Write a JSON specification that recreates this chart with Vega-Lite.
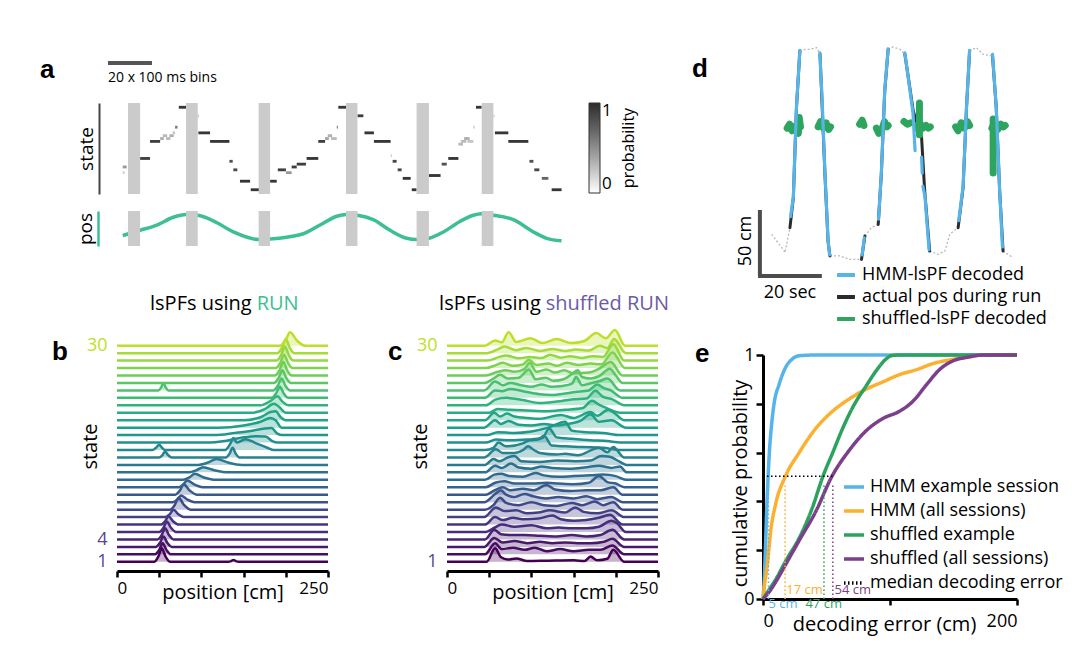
{
"$schema":"https://vega.github.io/schema/vega-lite/v6.json",
"background":"white",
"padding":{"left":40,"top":42,"right":5,"bottom":5},
"config":{"font":"Open Sans","view":{"stroke":null},
"title":{"font":"Liberation Sans","fontSize":26,"fontWeight":"bold","anchor":"start","frame":"group","offset":0,"baseline":"middle","color":"black"},
"axis":{"grid":false,"labelFont":"Open Sans","titleFont":"Open Sans","titleFontWeight":"normal","labelColor":"black","titleColor":"black","domainColor":"black","tickColor":"black"},
"legend":{"labelFont":"Open Sans","titleFont":"Open Sans","titleFontWeight":"normal"}},
"spacing":646,"bounds":"flush",
"resolve":{"scale":{"color":"independent","x":"independent","y":"independent","strokeDash":"independent"},"legend":{"color":"independent","strokeDash":"independent"}},
"hconcat":[
{"vconcat":[
 {"width":445,"height":41,"title":{"text":"a","dx":-77,"dy":42},
  "data":{"values":[{"t0":-6.4,"t1":13.6,"label":"20 x 100 ms bins"}]},
  "layer":[
   {"mark":{"type":"rule","color":"#555555","strokeWidth":4,"yOffset":-2.5},"encoding":{"x":{"field":"t0","type":"quantitative","scale":{"domain":[-2.3,200],"nice":false,"zero":false},"axis":null},"x2":{"field":"t1"}}},
   {"mark":{"type":"text","align":"left","baseline":"middle","dy":12.5,"fontSize":14},"encoding":{"x":{"field":"t0","type":"quantitative"},"text":{"field":"label"}}}
  ]},
 {"width":445,"height":91,
  "layer":[
   {"data":{"values":[
{"t0":0.3,"t1":2.1,"s":9,"p":0.45},{"t0":0.3,"t1":1.2,"s":7,"p":0.2},{"t0":8.2,"t1":12.7,"s":12,"p":0.9},{"t0":12.7,"t1":17.3,"s":18,"p":0.9},
{"t0":17.3,"t1":19,"s":19,"p":0.35},{"t0":18.5,"t1":20.5,"s":20,"p":0.3},{"t0":20,"t1":22,"s":19,"p":0.3},{"t0":21.5,"t1":23.5,"s":20,"p":0.35},{"t0":23,"t1":24.1,"s":21,"p":0.25},
{"t0":24.1,"t1":25.2,"s":23,"p":0.6},{"t0":25.8,"t1":29.1,"s":30,"p":0.95},{"t0":34.4,"t1":34.9,"s":27,"p":0.3},{"t0":34.7,"t1":40,"s":21,"p":0.95},{"t0":40,"t1":48.8,"s":18,"p":0.95},
{"t0":48.8,"t1":50.3,"s":11,"p":0.8},{"t0":50.6,"t1":52.4,"s":8,"p":0.85},{"t0":53.6,"t1":58.2,"s":4,"p":0.95},{"t0":58.5,"t1":62.4,"s":1,"p":0.95},
{"t0":67.3,"t1":70.3,"s":4,"p":0.95},{"t0":70.8,"t1":74.5,"s":8,"p":0.9},{"t0":74.5,"t1":77.1,"s":7,"p":0.45},{"t0":77.1,"t1":79.4,"s":9,"p":0.9},{"t0":79.4,"t1":83.6,"s":10,"p":0.9},
{"t0":83.9,"t1":89.2,"s":12,"p":0.95},{"t0":89.2,"t1":92.3,"s":18,"p":0.9},{"t0":92.3,"t1":94,"s":19,"p":0.4},{"t0":93.5,"t1":95.5,"s":20,"p":0.35},{"t0":95,"t1":97.6,"s":19,"p":0.3},
{"t0":97.6,"t1":98.2,"s":23,"p":0.5},{"t0":98.3,"t1":101.8,"s":30,"p":0.95},{"t0":107,"t1":109.7,"s":27,"p":0.9},{"t0":110.2,"t1":114.5,"s":21,"p":0.95},{"t0":114.5,"t1":122.1,"s":18,"p":0.95},
{"t0":122.1,"t1":122.7,"s":13,"p":0.2},{"t0":123,"t1":124.8,"s":11,"p":0.85},{"t0":125.3,"t1":127.1,"s":8,"p":0.85},{"t0":127.6,"t1":131.2,"s":5,"p":0.95},{"t0":131.7,"t1":133.9,"s":1,"p":0.95},
{"t0":139.5,"t1":144.8,"s":6,"p":0.95},{"t0":145.3,"t1":147.6,"s":10,"p":0.8},{"t0":148.3,"t1":152.9,"s":12,"p":0.95},{"t0":152.9,"t1":155,"s":17,"p":0.3},{"t0":154,"t1":156.5,"s":18,"p":0.3},
{"t0":155.5,"t1":158,"s":19,"p":0.35},{"t0":157,"t1":159.7,"s":18,"p":0.25},{"t0":159.7,"t1":160.3,"s":23,"p":0.25},{"t0":160.9,"t1":163.5,"s":30,"p":0.95},{"t0":168.8,"t1":169.4,"s":27,"p":0.2},
{"t0":169.5,"t1":175.6,"s":21,"p":0.95},{"t0":175.6,"t1":184.7,"s":18,"p":0.95},{"t0":185.2,"t1":187,"s":11,"p":0.8},{"t0":187.4,"t1":189.7,"s":8,"p":0.85},{"t0":190.8,"t1":193.8,"s":5,"p":0.7},{"t0":195.3,"t1":199.8,"s":1,"p":0.95}
   ]},
   "mark":"rect",
   "encoding":{
    "x":{"field":"t0","type":"quantitative","scale":{"domain":[-2.3,200],"nice":false,"zero":false},"axis":null},
    "x2":{"field":"t1"},
    "y":{"field":"s","type":"ordinal","scale":{"domain":[30,29,28,27,26,25,24,23,22,21,20,19,18,17,16,15,14,13,12,11,10,9,8,7,6,5,4,3,2,1],"paddingInner":0,"paddingOuter":1},
         "axis":{"title":"state","labels":false,"ticks":false,"domainColor":"#444444","domainWidth":2,"offset":18,"titleFontSize":19,"titlePadding":3}},
    "color":{"field":"p","type":"quantitative","scale":{"domain":[0,1],"range":["#ffffff","#2d2d2d"]},
      "legend":{"title":"probability","orient":"right","offset":27,"direction":"vertical","gradientLength":90,"gradientThickness":11,"values":[0,1],"format":"d","labelFontSize":17,"titleFontSize":16,"titleOrient":"right","gradientStrokeColor":"#333333","gradientStrokeWidth":1,"encode":{"title":{"update":{"angle":{"value":270},"dy":{"value":20}}}}}}
   }},
   {"data":{"values":[{"b0":2.7,"b1":8.2},{"b0":29.1,"b1":34.4},{"b0":62.1,"b1":67.3},{"b0":101.8,"b1":107},{"b0":133.9,"b1":139.5},{"b0":163.5,"b1":168.8}]},
    "mark":{"type":"rect","color":"#cbcbcb"},
    "encoding":{"x":{"field":"b0","type":"quantitative"},"x2":{"field":"b1"}}}
  ]},
 {"width":445,"height":35,
  "layer":[
   {"data":{"values":[{"t":0.3,"pos":82},{"t":8.2,"pos":114},{"t":15.8,"pos":146},{"t":23.3,"pos":194},{"t":29.1,"pos":211},{"t":34.4,"pos":206},{"t":41.5,"pos":172},{"t":50.6,"pos":104},{"t":62.1,"pos":57},{"t":67.3,"pos":61},{"t":74.8,"pos":72},{"t":82.4,"pos":93},{"t":90,"pos":146},{"t":97.6,"pos":200},{"t":101.8,"pos":211},{"t":107,"pos":206},{"t":114.2,"pos":179},{"t":121.8,"pos":114},{"t":129.4,"pos":65},{"t":133.9,"pos":57},{"t":139.5,"pos":65},{"t":146.1,"pos":104},{"t":153.6,"pos":168},{"t":159.7,"pos":206},{"t":163.5,"pos":215},{"t":168.8,"pos":206},{"t":177.9,"pos":179},{"t":187,"pos":104},{"t":193,"pos":65},{"t":199.8,"pos":50}]},
    "mark":{"type":"line","color":"#3dbf91","strokeWidth":3.5,"interpolate":"monotone"},
    "encoding":{"x":{"field":"t","type":"quantitative","scale":{"domain":[-2.3,200],"nice":false,"zero":false},"axis":null},
     "y":{"field":"pos","type":"quantitative","scale":{"domain":[18,232],"nice":false,"zero":false},"axis":{"title":"pos","labels":false,"ticks":false,"domainColor":"#3dbf91","domainWidth":2.5,"offset":19,"titleFontSize":19,"titlePadding":3}}}},
   {"data":{"values":[{"b0":2.7,"b1":8.2},{"b0":29.1,"b1":34.4},{"b0":62.1,"b1":67.3},{"b0":101.8,"b1":107},{"b0":133.9,"b1":139.5},{"b0":163.5,"b1":168.8}]},
    "mark":{"type":"rect","color":"#cbcbcb"},
    "encoding":{"x":{"field":"b0","type":"quantitative"},"x2":{"field":"b1"}}}
  ]},
 {"hconcat":[
  {"width":211,"height":304,"title":{"text":"b","dx":-65,"dy":106},
   "data":{"values":[
{"s":1,"x":0,"y":1},{"s":1,"x":44,"y":1},{"s":1,"x":49,"y":1.72},{"s":1,"x":53,"y":2.8},{"s":1,"x":57.5,"y":1.72},{"s":1,"x":63,"y":1},{"s":1,"x":132,"y":1},{"s":1,"x":135.3,"y":1.1},{"s":1,"x":138,"y":1.25},{"s":1,"x":140.7,"y":1.1},{"s":1,"x":144,"y":1},{"s":1,"x":250,"y":1},
{"s":2,"x":0,"y":2},{"s":2,"x":45,"y":2},{"s":2,"x":50,"y":2.6},{"s":2,"x":54,"y":3.5},{"s":2,"x":58.5,"y":2.6},{"s":2,"x":64,"y":2},{"s":2,"x":250,"y":2},
{"s":3,"x":0,"y":3},{"s":3,"x":46,"y":3},{"s":3,"x":51,"y":3.56},{"s":3,"x":55,"y":4.4},{"s":3,"x":59.5,"y":3.56},{"s":3,"x":65,"y":3},{"s":3,"x":250,"y":3},
{"s":4,"x":0,"y":4},{"s":4,"x":48,"y":4},{"s":4,"x":53,"y":4.6},{"s":4,"x":57,"y":5.5},{"s":4,"x":61.5,"y":4.6},{"s":4,"x":67,"y":4},{"s":4,"x":250,"y":4},
{"s":5,"x":0,"y":5},{"s":5,"x":50,"y":5},{"s":5,"x":55,"y":5.56},{"s":5,"x":59,"y":6.4},{"s":5,"x":64,"y":5.56},{"s":5,"x":70,"y":5},{"s":5,"x":250,"y":5},
{"s":6,"x":0,"y":6},{"s":6,"x":52,"y":6},{"s":6,"x":57,"y":6.44},{"s":6,"x":61,"y":7.1},{"s":6,"x":66.4,"y":6.44},{"s":6,"x":73,"y":6},{"s":6,"x":250,"y":6},
{"s":7,"x":0,"y":7},{"s":7,"x":57,"y":7},{"s":7,"x":62.5,"y":7.4},{"s":7,"x":67,"y":8},{"s":7,"x":72.4,"y":7.4},{"s":7,"x":79,"y":7},{"s":7,"x":250,"y":7},
{"s":8,"x":0,"y":8},{"s":8,"x":63,"y":8},{"s":8,"x":68.5,"y":8.64},{"s":8,"x":73,"y":9.6},{"s":8,"x":79.3,"y":8.64},{"s":8,"x":87,"y":8},{"s":8,"x":250,"y":8},
{"s":9,"x":0,"y":9},{"s":9,"x":66,"y":9},{"s":9,"x":71.5,"y":9.36},{"s":9,"x":76,"y":9.9},{"s":9,"x":83.2,"y":9.36},{"s":9,"x":92,"y":9},{"s":9,"x":250,"y":9},
{"s":10,"x":0,"y":10},{"s":10,"x":69,"y":10},{"s":10,"x":74.5,"y":10.56},{"s":10,"x":79,"y":11.4},{"s":10,"x":86.2,"y":10.56},{"s":10,"x":95,"y":10},{"s":10,"x":250,"y":10},
{"s":11,"x":0,"y":11},{"s":11,"x":73,"y":11},{"s":11,"x":78.5,"y":11.36},{"s":11,"x":83,"y":11.9},{"s":11,"x":92,"y":11.36},{"s":11,"x":103,"y":11},{"s":11,"x":250,"y":11},
{"s":12,"x":0,"y":12},{"s":12,"x":78,"y":12},{"s":12,"x":85.7,"y":12.32},{"s":12,"x":92,"y":12.8},{"s":12,"x":103,"y":12.32},{"s":12,"x":117,"y":12},{"s":12,"x":250,"y":12},
{"s":13,"x":0,"y":13},{"s":13,"x":84,"y":13},{"s":13,"x":94,"y":13.28},{"s":13,"x":102,"y":13.7},{"s":13,"x":115.5,"y":13.28},{"s":13,"x":132,"y":13},{"s":13,"x":250,"y":13},
{"s":14,"x":0,"y":14},{"s":14,"x":96,"y":14},{"s":14,"x":108,"y":14.32},{"s":14,"x":118,"y":14.8},{"s":14,"x":131.5,"y":14.32},{"s":14,"x":148,"y":14},{"s":14,"x":250,"y":14},
{"s":15,"x":0,"y":15},{"s":15,"x":50,"y":15},{"s":15,"x":53.9,"y":15.32},{"s":15,"x":57,"y":15.8},{"s":15,"x":60.6,"y":15.32},{"s":15,"x":65,"y":15},{"s":15,"x":129,"y":15},{"s":15,"x":133.4,"y":15.52},{"s":15,"x":137,"y":16.3},{"s":15,"x":140.6,"y":15.52},{"s":15,"x":145,"y":15},{"s":15,"x":250,"y":15},
{"s":16,"x":0,"y":16},{"s":16,"x":42,"y":16},{"s":16,"x":46,"y":16.28},{"s":16,"x":50,"y":16.7},{"s":16,"x":53.5,"y":16.28},{"s":16,"x":57,"y":16},{"s":16,"x":128,"y":16},{"s":16,"x":134,"y":16.8},{"s":16,"x":138,"y":17.6},{"s":16,"x":142,"y":17},{"s":16,"x":152,"y":17.45},{"s":16,"x":165,"y":16.9},{"s":16,"x":178,"y":16.3},{"s":16,"x":186,"y":16},{"s":16,"x":250,"y":16},
{"s":17,"x":0,"y":17},{"s":17,"x":105,"y":17},{"s":17,"x":130,"y":17.25},{"s":17,"x":150,"y":17.7},{"s":17,"x":165,"y":17.85},{"s":17,"x":176,"y":17.8},{"s":17,"x":184,"y":17.2},{"s":17,"x":190,"y":17},{"s":17,"x":250,"y":17},
{"s":18,"x":0,"y":18},{"s":18,"x":115,"y":18},{"s":18,"x":140,"y":18.3},{"s":18,"x":160,"y":18.6},{"s":18,"x":175,"y":18.9},{"s":18,"x":183,"y":18.95},{"s":18,"x":190,"y":18.2},{"s":18,"x":196,"y":18},{"s":18,"x":250,"y":18},
{"s":19,"x":0,"y":19},{"s":19,"x":120,"y":19},{"s":19,"x":150,"y":19.3},{"s":19,"x":170,"y":19.8},{"s":19,"x":182,"y":20.3},{"s":19,"x":188,"y":20},{"s":19,"x":195,"y":19},{"s":19,"x":250,"y":19},
{"s":20,"x":0,"y":20},{"s":20,"x":150,"y":20},{"s":20,"x":170,"y":20.4},{"s":20,"x":182,"y":21.1},{"s":20,"x":188,"y":21.2},{"s":20,"x":194,"y":20.4},{"s":20,"x":200,"y":20},{"s":20,"x":250,"y":20},
{"s":21,"x":0,"y":21},{"s":21,"x":160,"y":21},{"s":21,"x":175,"y":21.5},{"s":21,"x":186,"y":22.2},{"s":21,"x":192,"y":21.8},{"s":21,"x":200,"y":21},{"s":21,"x":250,"y":21},
{"s":22,"x":0,"y":22},{"s":22,"x":170,"y":22},{"s":22,"x":182,"y":22.6},{"s":22,"x":190,"y":23.2},{"s":22,"x":196,"y":22.5},{"s":22,"x":203,"y":22},{"s":22,"x":250,"y":22},
{"s":23,"x":0,"y":23},{"s":23,"x":183,"y":23},{"s":23,"x":188.5,"y":23.6},{"s":23,"x":193,"y":24.5},{"s":23,"x":197.5,"y":23.6},{"s":23,"x":203,"y":23},{"s":23,"x":250,"y":23},
{"s":24,"x":0,"y":24},{"s":24,"x":49,"y":24},{"s":24,"x":52.3,"y":24.4},{"s":24,"x":55,"y":25},{"s":24,"x":57.7,"y":24.4},{"s":24,"x":61,"y":24},{"s":24,"x":185,"y":24},{"s":24,"x":190.5,"y":24.64},{"s":24,"x":195,"y":25.6},{"s":24,"x":199.5,"y":24.64},{"s":24,"x":205,"y":24},{"s":24,"x":250,"y":24},
{"s":25,"x":0,"y":25},{"s":25,"x":186,"y":25},{"s":25,"x":191.5,"y":25.68},{"s":25,"x":196,"y":26.7},{"s":25,"x":200.5,"y":25.68},{"s":25,"x":206,"y":25},{"s":25,"x":250,"y":25},
{"s":26,"x":0,"y":26},{"s":26,"x":187,"y":26},{"s":26,"x":192.5,"y":26.72},{"s":26,"x":197,"y":27.8},{"s":26,"x":201.5,"y":26.72},{"s":26,"x":207,"y":26},{"s":26,"x":250,"y":26},
{"s":27,"x":0,"y":27},{"s":27,"x":188,"y":27},{"s":27,"x":193.5,"y":27.72},{"s":27,"x":198,"y":28.8},{"s":27,"x":202.5,"y":27.72},{"s":27,"x":208,"y":27},{"s":27,"x":250,"y":27},
{"s":28,"x":0,"y":28},{"s":28,"x":189,"y":28},{"s":28,"x":194.5,"y":28.76},{"s":28,"x":199,"y":29.9},{"s":28,"x":203.5,"y":28.76},{"s":28,"x":209,"y":28},{"s":28,"x":250,"y":28},
{"s":29,"x":0,"y":29},{"s":29,"x":190,"y":29},{"s":29,"x":195.5,"y":29.76},{"s":29,"x":200,"y":30.9},{"s":29,"x":204.5,"y":29.76},{"s":29,"x":210,"y":29},{"s":29,"x":250,"y":29},
{"s":30,"x":0,"y":30},{"s":30,"x":193,"y":30},{"s":30,"x":199.6,"y":30.72},{"s":30,"x":205,"y":31.8},{"s":30,"x":213,"y":30.72},{"s":30,"x":223,"y":30},{"s":30,"x":250,"y":30}
   ]},
   "layer":[
    {"mark":{"type":"area","opacity":0.3,"interpolate":"monotone"},
     "encoding":{"x":{"field":"x","type":"quantitative","scale":{"domain":[0,250],"nice":false},
        "axis":{"values":[0,50,100,150,200,250],"labelExpr":"datum.value==0||datum.value==250?datum.label:''","labelFlush":true,"domainWidth":3,"tickWidth":2.5,"tickSize":6,"offset":4,"labelFontSize":17,"labelPadding":3,"title":"position [cm]","titleFontSize":20,"titleY":21,"titleBaseline":"middle"}},
      "y":{"field":"y","type":"quantitative","stack":null,"scale":{"domain":[0.3,41.1],"nice":false,"zero":false},
        "axis":{"values":[1,4,30],"labelColor":{"condition":{"test":"datum.value==30","value":"#bddf26"},"value":"#574596"},"labelFontSize":18,"ticks":false,"domain":false,"labelPadding":10,"title":"state","titleFontSize":20,"titleX":-27,"titleY":183,"titleBaseline":"middle"}},
      "y2":{"field":"s"},
      "color":{"field":"s","type":"quantitative","scale":{"scheme":{"name":"viridis","extent":[0,0.9]},"domain":[1,30]},"legend":null},
      "detail":{"field":"s","type":"nominal"}}},
    {"mark":{"type":"line","strokeWidth":2.5,"interpolate":"monotone"},
     "encoding":{"x":{"field":"x","type":"quantitative"},"y":{"field":"y","type":"quantitative"},
      "color":{"field":"s","type":"quantitative","legend":null},"detail":{"field":"s","type":"nominal"}}},
    {"data":{"values":[{}]},"mark":{"type":"text","text":"lsPFs using","align":"right","baseline":"middle","fontSize":20,"dx":-5},"encoding":{"x":{"datum":165.5},"y":{"datum":35.6}}},
    {"data":{"values":[{}]},"mark":{"type":"text","text":"RUN","align":"left","baseline":"middle","fontSize":20,"color":"#3dbf91"},"encoding":{"x":{"datum":165.5},"y":{"datum":35.6}}}
   ]},
  {"width":211,"height":304,"title":{"text":"c","dx":-59,"dy":106},
   "data":{"values":[
{"s":30,"x":0,"y":30},{"s":30,"x":45,"y":30},{"s":30,"x":57,"y":30.7},{"s":30,"x":65,"y":30.45},{"s":30,"x":73,"y":31.8},{"s":30,"x":82,"y":30.5},{"s":30,"x":99,"y":31},{"s":30,"x":113,"y":30.35},{"s":30,"x":130,"y":30.9},{"s":30,"x":147,"y":30.35},{"s":30,"x":162,"y":30.6},{"s":30,"x":177,"y":31.7},{"s":30,"x":188,"y":31},{"s":30,"x":199,"y":32.1},{"s":30,"x":211,"y":30},{"s":30,"x":250,"y":30},
{"s":29,"x":0,"y":29},{"s":29,"x":47,"y":29},{"s":29,"x":60,"y":29.5},{"s":29,"x":68,"y":29.9},{"s":29,"x":82,"y":29.4},{"s":29,"x":94,"y":29.7},{"s":29,"x":110,"y":29.3},{"s":29,"x":125,"y":29.55},{"s":29,"x":140,"y":29.3},{"s":29,"x":153,"y":29.5},{"s":29,"x":168,"y":29.35},{"s":29,"x":181,"y":30},{"s":29,"x":190,"y":29.7},{"s":29,"x":198,"y":30.9},{"s":29,"x":212,"y":29},{"s":29,"x":250,"y":29},
{"s":28,"x":0,"y":28},{"s":28,"x":48,"y":28},{"s":28,"x":62,"y":28.5},{"s":28,"x":70,"y":28.7},{"s":28,"x":85,"y":28.3},{"s":28,"x":98,"y":28.5},{"s":28,"x":112,"y":28.35},{"s":28,"x":122,"y":28.8},{"s":28,"x":135,"y":28.4},{"s":28,"x":146,"y":28.6},{"s":28,"x":160,"y":28.35},{"s":28,"x":172,"y":28.6},{"s":28,"x":185,"y":28.5},{"s":28,"x":197,"y":30.2},{"s":28,"x":210,"y":28},{"s":28,"x":250,"y":28},
{"s":27,"x":0,"y":27},{"s":27,"x":46,"y":27},{"s":27,"x":58,"y":27.4},{"s":27,"x":66,"y":27.7},{"s":27,"x":78,"y":27.3},{"s":27,"x":90,"y":27.5},{"s":27,"x":97,"y":28.1},{"s":27,"x":106,"y":27.4},{"s":27,"x":120,"y":27.6},{"s":27,"x":130,"y":27.3},{"s":27,"x":142,"y":27.7},{"s":27,"x":156,"y":27.4},{"s":27,"x":170,"y":27.6},{"s":27,"x":183,"y":27.5},{"s":27,"x":196,"y":29.1},{"s":27,"x":211,"y":27},{"s":27,"x":250,"y":27},
{"s":26,"x":0,"y":26},{"s":26,"x":46,"y":26},{"s":26,"x":60,"y":26.5},{"s":26,"x":70,"y":26.7},{"s":26,"x":80,"y":26.5},{"s":26,"x":92,"y":26.9},{"s":26,"x":98,"y":27.7},{"s":26,"x":106,"y":26.5},{"s":26,"x":118,"y":26.8},{"s":26,"x":128,"y":26.4},{"s":26,"x":139,"y":26.7},{"s":26,"x":150,"y":26.3},{"s":26,"x":168,"y":26.4},{"s":26,"x":180,"y":26.9},{"s":26,"x":194,"y":27.8},{"s":26,"x":208,"y":26},{"s":26,"x":250,"y":26},
{"s":25,"x":0,"y":25},{"s":25,"x":45,"y":25},{"s":25,"x":55,"y":25.6},{"s":25,"x":63,"y":26.1},{"s":25,"x":72,"y":25.6},{"s":25,"x":85,"y":25.7},{"s":25,"x":97,"y":26.8},{"s":25,"x":105,"y":25.5},{"s":25,"x":117,"y":25.7},{"s":25,"x":126,"y":25.3},{"s":25,"x":138,"y":25.5},{"s":25,"x":148,"y":26.2},{"s":25,"x":155,"y":26.7},{"s":25,"x":160,"y":25.8},{"s":25,"x":170,"y":25.6},{"s":25,"x":180,"y":25.9},{"s":25,"x":193,"y":26.9},{"s":25,"x":200,"y":26},{"s":25,"x":208,"y":25},{"s":25,"x":250,"y":25},
{"s":24,"x":0,"y":24},{"s":24,"x":44,"y":24},{"s":24,"x":57,"y":25.2},{"s":24,"x":66,"y":24.7},{"s":24,"x":75,"y":25},{"s":24,"x":88,"y":24.7},{"s":24,"x":100,"y":24.5},{"s":24,"x":112,"y":24.8},{"s":24,"x":124,"y":24.5},{"s":24,"x":137,"y":24.6},{"s":24,"x":148,"y":24.9},{"s":24,"x":153,"y":25.8},{"s":24,"x":160,"y":24.7},{"s":24,"x":172,"y":25},{"s":24,"x":182,"y":25.3},{"s":24,"x":190,"y":25.6},{"s":24,"x":205,"y":24},{"s":24,"x":250,"y":24},
{"s":23,"x":0,"y":23},{"s":23,"x":45,"y":23},{"s":23,"x":57,"y":24},{"s":23,"x":65,"y":23.9},{"s":23,"x":75,"y":24.2},{"s":23,"x":90,"y":23.9},{"s":23,"x":110,"y":23.5},{"s":23,"x":125,"y":23.4},{"s":23,"x":140,"y":23.6},{"s":23,"x":152,"y":23.8},{"s":23,"x":168,"y":24},{"s":23,"x":178,"y":24.8},{"s":23,"x":186,"y":24.3},{"s":23,"x":194,"y":24},{"s":23,"x":208,"y":23},{"s":23,"x":250,"y":23},
{"s":22,"x":0,"y":22},{"s":22,"x":46,"y":22},{"s":22,"x":58,"y":22.8},{"s":22,"x":70,"y":23},{"s":22,"x":90,"y":22.7},{"s":22,"x":110,"y":22.3},{"s":22,"x":130,"y":22.5},{"s":22,"x":150,"y":22.8},{"s":22,"x":165,"y":22.9},{"s":22,"x":176,"y":23.95},{"s":22,"x":184,"y":23.2},{"s":22,"x":196,"y":22.8},{"s":22,"x":210,"y":22},{"s":22,"x":250,"y":22},
{"s":21,"x":0,"y":21},{"s":21,"x":50,"y":21},{"s":21,"x":60,"y":21.5},{"s":21,"x":75,"y":21.4},{"s":21,"x":95,"y":21.3},{"s":21,"x":118,"y":21.2},{"s":21,"x":140,"y":21.4},{"s":21,"x":160,"y":21.6},{"s":21,"x":172,"y":22.6},{"s":21,"x":180,"y":22.1},{"s":21,"x":190,"y":21.6},{"s":21,"x":205,"y":21},{"s":21,"x":250,"y":21},
{"s":20,"x":0,"y":20},{"s":20,"x":45,"y":20},{"s":20,"x":56,"y":21},{"s":20,"x":63,"y":20.5},{"s":20,"x":71,"y":20.9},{"s":20,"x":80,"y":20.5},{"s":20,"x":96,"y":20.3},{"s":20,"x":110,"y":20.2},{"s":20,"x":135,"y":20.7},{"s":20,"x":150,"y":20.3},{"s":20,"x":170,"y":21.1},{"s":20,"x":178,"y":20.6},{"s":20,"x":191,"y":21.4},{"s":20,"x":200,"y":20.8},{"s":20,"x":210,"y":20},{"s":20,"x":250,"y":20},
{"s":19,"x":0,"y":19},{"s":19,"x":44,"y":19},{"s":19,"x":57,"y":20},{"s":19,"x":64,"y":19.5},{"s":19,"x":73,"y":19.9},{"s":19,"x":85,"y":19.4},{"s":19,"x":100,"y":19.3},{"s":19,"x":115,"y":19.5},{"s":19,"x":130,"y":19.3},{"s":19,"x":143,"y":19.5},{"s":19,"x":158,"y":19.9},{"s":19,"x":170,"y":20.8},{"s":19,"x":180,"y":19.8},{"s":19,"x":195,"y":20},{"s":19,"x":212,"y":19},{"s":19,"x":250,"y":19},
{"s":18,"x":0,"y":18},{"s":18,"x":48,"y":18},{"s":18,"x":60,"y":18.4},{"s":18,"x":80,"y":18.3},{"s":18,"x":100,"y":18.5},{"s":18,"x":120,"y":19},{"s":18,"x":140,"y":19.8},{"s":18,"x":148,"y":18.6},{"s":18,"x":165,"y":18.4},{"s":18,"x":185,"y":18.3},{"s":18,"x":205,"y":18},{"s":18,"x":250,"y":18},
{"s":17,"x":0,"y":17},{"s":17,"x":46,"y":17},{"s":17,"x":58,"y":17.4},{"s":17,"x":75,"y":17.3},{"s":17,"x":95,"y":17.4},{"s":17,"x":113,"y":17.6},{"s":17,"x":121,"y":18.9},{"s":17,"x":130,"y":17.7},{"s":17,"x":148,"y":17.5},{"s":17,"x":170,"y":17.3},{"s":17,"x":190,"y":17.2},{"s":17,"x":205,"y":17},{"s":17,"x":250,"y":17},
{"s":16,"x":0,"y":16},{"s":16,"x":45,"y":16},{"s":16,"x":55,"y":16.3},{"s":16,"x":61,"y":17},{"s":16,"x":70,"y":16.5},{"s":16,"x":90,"y":16.9},{"s":16,"x":98,"y":17.3},{"s":16,"x":108,"y":17.4},{"s":16,"x":115,"y":17.9},{"s":16,"x":124,"y":16.6},{"s":16,"x":140,"y":16.5},{"s":16,"x":160,"y":16.4},{"s":16,"x":185,"y":16.3},{"s":16,"x":205,"y":16},{"s":16,"x":250,"y":16},
{"s":15,"x":0,"y":15},{"s":15,"x":44,"y":15},{"s":15,"x":58,"y":16.1},{"s":15,"x":66,"y":15.6},{"s":15,"x":80,"y":15.6},{"s":15,"x":90,"y":16},{"s":15,"x":96,"y":16.5},{"s":15,"x":103,"y":16},{"s":15,"x":110,"y":15.6},{"s":15,"x":130,"y":15.4},{"s":15,"x":140,"y":15.5},{"s":15,"x":155,"y":15.3},{"s":15,"x":180,"y":16.3},{"s":15,"x":190,"y":15.7},{"s":15,"x":197,"y":16.4},{"s":15,"x":210,"y":15},{"s":15,"x":250,"y":15},
{"s":14,"x":0,"y":14},{"s":14,"x":45,"y":14},{"s":14,"x":55,"y":14.8},{"s":14,"x":62,"y":14.5},{"s":14,"x":72,"y":15},{"s":14,"x":80,"y":15.2},{"s":14,"x":88,"y":14.5},{"s":14,"x":110,"y":14.4},{"s":14,"x":130,"y":14.6},{"s":14,"x":152,"y":14.5},{"s":14,"x":170,"y":14.6},{"s":14,"x":183,"y":15.2},{"s":14,"x":193,"y":15.1},{"s":14,"x":205,"y":14.4},{"s":14,"x":213,"y":14},{"s":14,"x":250,"y":14},
{"s":13,"x":0,"y":13},{"s":13,"x":45,"y":13},{"s":13,"x":57,"y":13.9},{"s":13,"x":65,"y":13.6},{"s":13,"x":76,"y":14.2},{"s":13,"x":84,"y":13.7},{"s":13,"x":100,"y":13.5},{"s":13,"x":112,"y":13.8},{"s":13,"x":125,"y":13.6},{"s":13,"x":145,"y":13.5},{"s":13,"x":165,"y":13.7},{"s":13,"x":180,"y":13.9},{"s":13,"x":195,"y":13.6},{"s":13,"x":205,"y":13.8},{"s":13,"x":213,"y":13},{"s":13,"x":250,"y":13},
{"s":12,"x":0,"y":12},{"s":12,"x":45,"y":12},{"s":12,"x":56,"y":12.7},{"s":12,"x":64,"y":12.8},{"s":12,"x":74,"y":12.5},{"s":12,"x":90,"y":12.4},{"s":12,"x":105,"y":12.9},{"s":12,"x":115,"y":12.6},{"s":12,"x":133,"y":12.4},{"s":12,"x":150,"y":12.5},{"s":12,"x":170,"y":12.6},{"s":12,"x":185,"y":12.7},{"s":12,"x":200,"y":12.5},{"s":12,"x":212,"y":12},{"s":12,"x":250,"y":12},
{"s":11,"x":0,"y":11},{"s":11,"x":46,"y":11},{"s":11,"x":57,"y":11.6},{"s":11,"x":68,"y":11.8},{"s":11,"x":80,"y":11.5},{"s":11,"x":100,"y":11.5},{"s":11,"x":118,"y":11.6},{"s":11,"x":132,"y":11.5},{"s":11,"x":150,"y":11.4},{"s":11,"x":168,"y":11.6},{"s":11,"x":180,"y":12.5},{"s":11,"x":190,"y":11.7},{"s":11,"x":200,"y":11.5},{"s":11,"x":210,"y":11},{"s":11,"x":250,"y":11},
{"s":10,"x":0,"y":10},{"s":10,"x":46,"y":10},{"s":10,"x":55,"y":10.5},{"s":10,"x":66,"y":11},{"s":10,"x":75,"y":10.6},{"s":10,"x":90,"y":10.8},{"s":10,"x":103,"y":10.6},{"s":10,"x":118,"y":11.3},{"s":10,"x":128,"y":10.7},{"s":10,"x":146,"y":10.5},{"s":10,"x":165,"y":10.6},{"s":10,"x":182,"y":10.6},{"s":10,"x":197,"y":11},{"s":10,"x":208,"y":10},{"s":10,"x":250,"y":10},
{"s":9,"x":0,"y":9},{"s":9,"x":44,"y":9},{"s":9,"x":57,"y":10.1},{"s":9,"x":64,"y":10.6},{"s":9,"x":70,"y":10},{"s":9,"x":80,"y":9.7},{"s":9,"x":92,"y":10.1},{"s":9,"x":102,"y":9.8},{"s":9,"x":117,"y":9.5},{"s":9,"x":132,"y":9.7},{"s":9,"x":150,"y":9.5},{"s":9,"x":165,"y":9.8},{"s":9,"x":178,"y":9.4},{"s":9,"x":195,"y":9.7},{"s":9,"x":208,"y":9},{"s":9,"x":250,"y":9},
{"s":8,"x":0,"y":8},{"s":8,"x":45,"y":8},{"s":8,"x":55,"y":8.6},{"s":8,"x":63,"y":9.6},{"s":8,"x":70,"y":8.9},{"s":8,"x":85,"y":8.6},{"s":8,"x":100,"y":9},{"s":8,"x":115,"y":8.6},{"s":8,"x":130,"y":8.5},{"s":8,"x":148,"y":8.9},{"s":8,"x":160,"y":8.6},{"s":8,"x":175,"y":9.1},{"s":8,"x":185,"y":8.6},{"s":8,"x":197,"y":9},{"s":8,"x":208,"y":8},{"s":8,"x":250,"y":8},
{"s":7,"x":0,"y":7},{"s":7,"x":44,"y":7},{"s":7,"x":58,"y":8.3},{"s":7,"x":68,"y":7.8},{"s":7,"x":82,"y":7.9},{"s":7,"x":95,"y":7.5},{"s":7,"x":108,"y":7.6},{"s":7,"x":122,"y":7.9},{"s":7,"x":140,"y":7.6},{"s":7,"x":152,"y":8.3},{"s":7,"x":162,"y":7.7},{"s":7,"x":178,"y":7.5},{"s":7,"x":195,"y":7.9},{"s":7,"x":210,"y":7},{"s":7,"x":250,"y":7},
{"s":6,"x":0,"y":6},{"s":6,"x":45,"y":6},{"s":6,"x":57,"y":7},{"s":6,"x":66,"y":6.6},{"s":6,"x":78,"y":6.9},{"s":6,"x":90,"y":6.7},{"s":6,"x":108,"y":6.8},{"s":6,"x":125,"y":7.2},{"s":6,"x":135,"y":6.7},{"s":6,"x":150,"y":6.5},{"s":6,"x":165,"y":6.6},{"s":6,"x":180,"y":6.9},{"s":6,"x":193,"y":7.3},{"s":6,"x":208,"y":6},{"s":6,"x":250,"y":6},
{"s":5,"x":0,"y":5},{"s":5,"x":46,"y":5},{"s":5,"x":55,"y":5.5},{"s":5,"x":65,"y":6},{"s":5,"x":80,"y":5.7},{"s":5,"x":100,"y":5.9},{"s":5,"x":118,"y":5.5},{"s":5,"x":132,"y":5.6},{"s":5,"x":148,"y":5.5},{"s":5,"x":165,"y":5.5},{"s":5,"x":180,"y":5.7},{"s":5,"x":195,"y":6.5},{"s":5,"x":201,"y":6.2},{"s":5,"x":212,"y":5},{"s":5,"x":250,"y":5},
{"s":4,"x":0,"y":4},{"s":4,"x":45,"y":4},{"s":4,"x":56,"y":5.3},{"s":4,"x":64,"y":4.7},{"s":4,"x":75,"y":4.6},{"s":4,"x":92,"y":4.6},{"s":4,"x":110,"y":4.5},{"s":4,"x":130,"y":4.4},{"s":4,"x":148,"y":4.6},{"s":4,"x":165,"y":4.4},{"s":4,"x":182,"y":4.6},{"s":4,"x":196,"y":5.3},{"s":4,"x":210,"y":4},{"s":4,"x":250,"y":4},
{"s":3,"x":0,"y":3},{"s":3,"x":44,"y":3},{"s":3,"x":56,"y":4.2},{"s":3,"x":66,"y":3.6},{"s":3,"x":80,"y":3.8},{"s":3,"x":95,"y":3.5},{"s":3,"x":110,"y":3.7},{"s":3,"x":125,"y":3.5},{"s":3,"x":140,"y":3.6},{"s":3,"x":155,"y":3.5},{"s":3,"x":170,"y":3.5},{"s":3,"x":186,"y":3.7},{"s":3,"x":196,"y":4.1},{"s":3,"x":210,"y":3},{"s":3,"x":250,"y":3},
{"s":2,"x":0,"y":2},{"s":2,"x":45,"y":2},{"s":2,"x":57,"y":3.5},{"s":2,"x":65,"y":2.7},{"s":2,"x":78,"y":2.9},{"s":2,"x":92,"y":2.6},{"s":2,"x":104,"y":2.9},{"s":2,"x":118,"y":2.4},{"s":2,"x":134,"y":2.7},{"s":2,"x":150,"y":2.4},{"s":2,"x":168,"y":2.6},{"s":2,"x":182,"y":2.6},{"s":2,"x":196,"y":3.2},{"s":2,"x":210,"y":2},{"s":2,"x":250,"y":2},
{"s":1,"x":0,"y":1},{"s":1,"x":47,"y":1},{"s":1,"x":57,"y":2.8},{"s":1,"x":64,"y":1.6},{"s":1,"x":72,"y":1.3},{"s":1,"x":82,"y":1.45},{"s":1,"x":95,"y":1.1},{"s":1,"x":120,"y":1.15},{"s":1,"x":150,"y":1.2},{"s":1,"x":163,"y":1.1},{"s":1,"x":170,"y":1.7},{"s":1,"x":178,"y":1.2},{"s":1,"x":190,"y":1.4},{"s":1,"x":197,"y":2.6},{"s":1,"x":210,"y":1},{"s":1,"x":250,"y":1}
   ]},
   "layer":[
    {"mark":{"type":"area","opacity":0.3,"interpolate":"monotone"},
     "encoding":{"x":{"field":"x","type":"quantitative","scale":{"domain":[0,250],"nice":false},
        "axis":{"values":[0,50,100,150,200,250],"labelExpr":"datum.value==0||datum.value==250?datum.label:''","labelFlush":true,"domainWidth":3,"tickWidth":2.5,"tickSize":6,"offset":4,"labelFontSize":17,"labelPadding":3,"title":"position [cm]","titleFontSize":20,"titleY":21,"titleBaseline":"middle"}},
      "y":{"field":"y","type":"quantitative","stack":null,"scale":{"domain":[0.3,41.1],"nice":false,"zero":false},
        "axis":{"values":[1,30],"labelColor":{"condition":{"test":"datum.value==30","value":"#bddf26"},"value":"#574596"},"labelFontSize":18,"ticks":false,"domain":false,"labelPadding":10,"title":"state","titleFontSize":20,"titleX":-27,"titleY":183,"titleBaseline":"middle"}},
      "y2":{"field":"s"},
      "color":{"field":"s","type":"quantitative","scale":{"scheme":{"name":"viridis","extent":[0,0.9]},"domain":[1,30]},"legend":null},
      "detail":{"field":"s","type":"nominal"}}},
    {"mark":{"type":"line","strokeWidth":2.5,"interpolate":"monotone"},
     "encoding":{"x":{"field":"x","type":"quantitative"},"y":{"field":"y","type":"quantitative"},
      "color":{"field":"s","type":"quantitative","legend":null},"detail":{"field":"s","type":"nominal"}}},
    {"data":{"values":[{}]},"mark":{"type":"text","text":"lsPFs using","align":"right","baseline":"middle","fontSize":20,"dx":-5},"encoding":{"x":{"datum":117},"y":{"datum":35.6}}},
    {"data":{"values":[{}]},"mark":{"type":"text","text":"shuffled RUN","align":"left","baseline":"middle","fontSize":20,"color":"#6a5aa8"},"encoding":{"x":{"datum":117},"y":{"datum":35.6}}}
   ]}
 ],"spacing":119,"bounds":"flush","resolve":{"scale":{"color":"independent","x":"independent","y":"independent"}}}
],"spacing":17,"bounds":"flush","resolve":{"scale":{"color":"independent","x":"independent","y":"independent"},"legend":{"color":"independent"}}},
{"vconcat":[
 {"width":254,"height":231,"title":{"text":"d","dx":-71,"dy":43},
  "data":{"values":[
{"k":"gap","g":"G1","t":3.8,"p":31.6},{"k":"gap","g":"G1","t":5.4,"p":26.5},{"k":"gap","g":"G1","t":7.5,"p":20.2},{"k":"gap","g":"G1","t":8.1,"p":17.7},{"k":"gap","g":"G1","t":9.7,"p":36.6},
{"k":"gap","g":"G2","t":12.9,"p":170.5},{"k":"gap","g":"G2","t":14.5,"p":171.7},{"k":"gap","g":"G2","t":16.1,"p":171.7},{"k":"gap","g":"G2","t":18.3,"p":173},{"k":"gap","g":"G2","t":19.4,"p":168},
{"k":"gap","g":"G3","t":22.6,"p":15.2},{"k":"gap","g":"G3","t":25.8,"p":15.2},{"k":"gap","g":"G3","t":29,"p":12.6},{"k":"gap","g":"G3","t":32.8,"p":12.6},
{"k":"gap","g":"G4","t":33.9,"p":30.3},{"k":"gap","g":"G4","t":36,"p":36.6},{"k":"gap","g":"G4","t":38.2,"p":39.1},
{"k":"gap","g":"G5","t":41.4,"p":171.7},{"k":"gap","g":"G5","t":43,"p":173.5},{"k":"gap","g":"G5","t":45.2,"p":171.7},{"k":"gap","g":"G5","t":46.8,"p":168},
{"k":"gap","g":"G6","t":54.8,"p":18.9},{"k":"gap","g":"G6","t":57.5,"p":16.4},{"k":"gap","g":"G6","t":59.7,"p":18.9},{"k":"gap","g":"G6","t":61.3,"p":31.6},{"k":"gap","g":"G6","t":64,"p":36.6},
{"k":"gap","g":"G7","t":67.7,"p":170.5},{"k":"gap","g":"G7","t":69.9,"p":173},{"k":"gap","g":"G7","t":72,"p":168},{"k":"gap","g":"G7","t":75.1,"p":166.7},
{"k":"gap","g":"G8","t":78.5,"p":18.9},{"k":"gap","g":"G8","t":81.7,"p":13.9},
{"k":"actual pos during run","g":"R1","t":9.7,"p":36.6},{"k":"actual pos during run","g":"R1","t":10.8,"p":59.3},{"k":"actual pos during run","g":"R1","t":11.8,"p":127.5},{"k":"actual pos during run","g":"R1","t":12.9,"p":170.5},
{"k":"actual pos during run","g":"R2","t":19.4,"p":168},{"k":"actual pos during run","g":"R2","t":19.9,"p":140},{"k":"actual pos during run","g":"R2","t":21,"p":77},{"k":"actual pos during run","g":"R2","t":22,"p":26.5},{"k":"actual pos during run","g":"R2","t":22.6,"p":15.2},
{"k":"actual pos during run","g":"R3","t":32.8,"p":12.6},{"k":"actual pos during run","g":"R3","t":33.9,"p":30.3},
{"k":"actual pos during run","g":"R4","t":38.2,"p":39.1},{"k":"actual pos during run","g":"R4","t":39.2,"p":77},{"k":"actual pos during run","g":"R4","t":40.3,"p":140},{"k":"actual pos during run","g":"R4","t":41.4,"p":171.7},
{"k":"actual pos during run","g":"R5","t":46.8,"p":168},{"k":"actual pos during run","g":"R5","t":48.4,"p":142.7},{"k":"actual pos during run","g":"R5","t":49.5,"p":125},{"k":"actual pos during run","g":"R5","t":52.2,"p":104.8},{"k":"actual pos during run","g":"R5","t":53.2,"p":64.4},{"k":"actual pos during run","g":"R5","t":54.8,"p":18.9},
{"k":"actual pos during run","g":"R6","t":64,"p":36.6},{"k":"actual pos during run","g":"R6","t":65.6,"p":66.9},{"k":"actual pos during run","g":"R6","t":66.7,"p":127.5},{"k":"actual pos during run","g":"R6","t":67.7,"p":170.5},
{"k":"actual pos during run","g":"R7","t":75.1,"p":166.7},{"k":"actual pos during run","g":"R7","t":76.3,"p":127.5},{"k":"actual pos during run","g":"R7","t":77.4,"p":64.4},{"k":"actual pos during run","g":"R7","t":78.5,"p":18.9},
{"k":"HMM-lsPF decoded","g":"B1","t":9.9,"p":45},{"k":"HMM-lsPF decoded","g":"B1","t":10.8,"p":60},{"k":"HMM-lsPF decoded","g":"B1","t":11.8,"p":128},{"k":"HMM-lsPF decoded","g":"B1","t":12.9,"p":171},
{"k":"HMM-lsPF decoded","g":"B2","t":19.4,"p":169},{"k":"HMM-lsPF decoded","g":"B2","t":19.7,"p":150},{"k":"HMM-lsPF decoded","g":"B2","t":20,"p":139},{"k":"HMM-lsPF decoded","g":"B2","t":21,"p":78},{"k":"HMM-lsPF decoded","g":"B2","t":22,"p":27},{"k":"HMM-lsPF decoded","g":"B2","t":22.5,"p":16},
{"k":"HMM-lsPF decoded","g":"B3","t":33,"p":16},{"k":"HMM-lsPF decoded","g":"B3","t":33.7,"p":29},
{"k":"HMM-lsPF decoded","g":"B4","t":38.3,"p":43},{"k":"HMM-lsPF decoded","g":"B4","t":39.2,"p":78},{"k":"HMM-lsPF decoded","g":"B4","t":40.3,"p":141},{"k":"HMM-lsPF decoded","g":"B4","t":41.4,"p":172},
{"k":"HMM-lsPF decoded","g":"B5a","t":46.8,"p":169},{"k":"HMM-lsPF decoded","g":"B5a","t":48.3,"p":143},{"k":"HMM-lsPF decoded","g":"B5a","t":49.4,"p":124},{"k":"HMM-lsPF decoded","g":"B5a","t":50.1,"p":95},
{"k":"HMM-lsPF decoded","g":"B5b","t":52.2,"p":90},{"k":"HMM-lsPF decoded","g":"B5b","t":52.4,"p":78},
{"k":"HMM-lsPF decoded","g":"B5c","t":52.6,"p":68},{"k":"HMM-lsPF decoded","g":"B5c","t":53.3,"p":60},{"k":"HMM-lsPF decoded","g":"B5c","t":54.6,"p":20},
{"k":"HMM-lsPF decoded","g":"B6","t":64.2,"p":42},{"k":"HMM-lsPF decoded","g":"B6","t":65.6,"p":68},{"k":"HMM-lsPF decoded","g":"B6","t":66.7,"p":128},{"k":"HMM-lsPF decoded","g":"B6","t":67.7,"p":171},
{"k":"HMM-lsPF decoded","g":"B7","t":75.1,"p":168},{"k":"HMM-lsPF decoded","g":"B7","t":76.3,"p":128},{"k":"HMM-lsPF decoded","g":"B7","t":77.4,"p":65},{"k":"HMM-lsPF decoded","g":"B7","t":78.3,"p":22},
{"k":"shuffled-lsPF decoded","g":"S1","t":8.8,"p":112},{"k":"shuffled-lsPF decoded","g":"S1","t":9.6,"p":115},{"k":"shuffled-lsPF decoded","g":"S1","t":10.4,"p":110},{"k":"shuffled-lsPF decoded","g":"S1","t":11.6,"p":114},{"k":"shuffled-lsPF decoded","g":"S1","t":12.4,"p":108},{"k":"shuffled-lsPF decoded","g":"S1","t":12.7,"p":120},{"k":"shuffled-lsPF decoded","g":"S1","t":13.1,"p":113},
{"k":"shuffled-lsPF decoded","g":"S2","t":18.8,"p":113},{"k":"shuffled-lsPF decoded","g":"S2","t":19.6,"p":117},{"k":"shuffled-lsPF decoded","g":"S2","t":20.5,"p":112},{"k":"shuffled-lsPF decoded","g":"S2","t":21.4,"p":116},{"k":"shuffled-lsPF decoded","g":"S2","t":22.2,"p":111},{"k":"shuffled-lsPF decoded","g":"S2","t":22.8,"p":113},
{"k":"shuffled-lsPF decoded","g":"S3","t":32.2,"p":115},{"k":"shuffled-lsPF decoded","g":"S3","t":33,"p":118},{"k":"shuffled-lsPF decoded","g":"S3","t":33.6,"p":114},
{"k":"shuffled-lsPF decoded","g":"S4","t":37.6,"p":112},{"k":"shuffled-lsPF decoded","g":"S4","t":38.4,"p":108},{"k":"shuffled-lsPF decoded","g":"S4","t":39.4,"p":111},{"k":"shuffled-lsPF decoded","g":"S4","t":40.2,"p":117},{"k":"shuffled-lsPF decoded","g":"S4","t":41,"p":113},{"k":"shuffled-lsPF decoded","g":"S4","t":41.4,"p":114},
{"k":"shuffled-lsPF decoded","g":"S5","t":46.5,"p":117},{"k":"shuffled-lsPF decoded","g":"S5","t":47.6,"p":115},{"k":"shuffled-lsPF decoded","g":"S5","t":48.6,"p":116},
{"k":"shuffled-lsPF decoded","g":"S6","t":50.6,"p":112},{"k":"shuffled-lsPF decoded","g":"S6","t":51.6,"p":116},{"k":"shuffled-lsPF decoded","g":"S6","t":52.6,"p":112},{"k":"shuffled-lsPF decoded","g":"S6","t":53.6,"p":114},{"k":"shuffled-lsPF decoded","g":"S6","t":54.4,"p":112},{"k":"shuffled-lsPF decoded","g":"S6","t":55,"p":113},
{"k":"shuffled-lsPF decoded","g":"S7","t":51.5,"p":107},{"k":"shuffled-lsPF decoded","g":"S7","t":51.5,"p":131},
{"k":"shuffled-lsPF decoded","g":"S8","t":63.2,"p":113},{"k":"shuffled-lsPF decoded","g":"S8","t":64,"p":110},{"k":"shuffled-lsPF decoded","g":"S8","t":65,"p":116},{"k":"shuffled-lsPF decoded","g":"S8","t":66,"p":112},{"k":"shuffled-lsPF decoded","g":"S8","t":67,"p":117},{"k":"shuffled-lsPF decoded","g":"S8","t":67.7,"p":114},
{"k":"shuffled-lsPF decoded","g":"S9","t":74.9,"p":112},{"k":"shuffled-lsPF decoded","g":"S9","t":75.8,"p":116},{"k":"shuffled-lsPF decoded","g":"S9","t":76.8,"p":111},{"k":"shuffled-lsPF decoded","g":"S9","t":77.8,"p":115},{"k":"shuffled-lsPF decoded","g":"S9","t":78.6,"p":113},{"k":"shuffled-lsPF decoded","g":"S9","t":79.2,"p":114},
{"k":"shuffled-lsPF decoded","g":"S10","t":75.3,"p":78},{"k":"shuffled-lsPF decoded","g":"S10","t":75.3,"p":119}
  ]},
  "layer":[
   {"transform":[{"filter":"datum.k=='gap'"}],"mark":{"type":"line","color":"#b8b8b8","strokeWidth":1.3,"strokeDash":[2,2]},
    "encoding":{"x":{"field":"t","type":"quantitative","scale":{"domain":[1,83],"nice":false,"zero":false},"axis":null},"y":{"field":"p","type":"quantitative","scale":{"domain":[0,175],"nice":false},"axis":null},"detail":{"field":"g"},"order":{"value":null}}},
   {"transform":[{"filter":"datum.k=='actual pos during run'"}],"mark":{"type":"line","strokeWidth":3,"strokeCap":"round"},
    "encoding":{"x":{"field":"t","type":"quantitative"},"y":{"field":"p","type":"quantitative"},"detail":{"field":"g"},"order":{"value":null},
     "color":{"field":"k","type":"nominal","scale":{"domain":["HMM-lsPF decoded","actual pos during run","shuffled-lsPF decoded"],"range":["#56b4e9","#2b2b2b","#2ea55f"]},
      "legend":{"title":null,"orient":"none","legendX":72,"legendY":219,"symbolType":"stroke","symbolStrokeWidth":4,"symbolSize":320,"labelFontSize":18,"rowPadding":2,"labelOffset":5,"labelLimit":400}}}},
   {"transform":[{"filter":"datum.k=='shuffled-lsPF decoded'"}],"mark":{"type":"line","strokeWidth":7,"strokeCap":"round","strokeJoin":"round"},
    "encoding":{"x":{"field":"t","type":"quantitative"},"y":{"field":"p","type":"quantitative"},"detail":{"field":"g"},"order":{"value":null},"color":{"field":"k","type":"nominal"}}},
   {"transform":[{"filter":"datum.k=='HMM-lsPF decoded'"}],"mark":{"type":"line","strokeWidth":3.2,"strokeCap":"round"},
    "encoding":{"x":{"field":"t","type":"quantitative"},"y":{"field":"p","type":"quantitative"},"detail":{"field":"g"},"order":{"value":null},"color":{"field":"k","type":"nominal"}}},
   {"data":{"values":[{}]},"mark":{"type":"rule","color":"#4d4d4d","strokeWidth":4},"encoding":{"x":{"datum":0},"y":{"datum":0},"y2":{"datum":50}}},
   {"data":{"values":[{}]},"mark":{"type":"rule","color":"#4d4d4d","strokeWidth":4},"encoding":{"x":{"datum":-0.6},"x2":{"datum":20},"y":{"datum":0}}},
   {"data":{"values":[{}]},"mark":{"type":"text","text":"50 cm","angle":270,"align":"center","baseline":"middle","fontSize":18},"encoding":{"x":{"datum":-4.5},"y":{"datum":26.5}}},
   {"data":{"values":[{}]},"mark":{"type":"text","text":"20 sec","align":"center","baseline":"middle","fontSize":18},"encoding":{"x":{"datum":9.7},"y":{"datum":-12.9}}}
  ]},
 {"width":254,"height":244,"title":{"text":"e","dx":-68,"dy":25},
  "layer":[
   {"data":{"values":[
{"series":"HMM example session","x":0,"p":0},{"series":"HMM example session","x":1,"p":0.08},{"series":"HMM example session","x":2,"p":0.22},{"series":"HMM example session","x":3,"p":0.38},{"series":"HMM example session","x":4,"p":0.5},{"series":"HMM example session","x":5,"p":0.6},{"series":"HMM example session","x":6.5,"p":0.7},{"series":"HMM example session","x":8.7,"p":0.8},{"series":"HMM example session","x":12.7,"p":0.88},{"series":"HMM example session","x":17.9,"p":0.95},{"series":"HMM example session","x":23.2,"p":0.984},{"series":"HMM example session","x":28.5,"p":0.997},{"series":"HMM example session","x":41.7,"p":1},{"series":"HMM example session","x":200,"p":1},
{"series":"HMM (all sessions)","x":0,"p":0},{"series":"HMM (all sessions)","x":1,"p":0.05},{"series":"HMM (all sessions)","x":3.4,"p":0.14},{"series":"HMM (all sessions)","x":6.1,"p":0.28},{"series":"HMM (all sessions)","x":10,"p":0.39},{"series":"HMM (all sessions)","x":17.4,"p":0.5},{"series":"HMM (all sessions)","x":28.5,"p":0.6},{"series":"HMM (all sessions)","x":41.7,"p":0.7},{"series":"HMM (all sessions)","x":54.9,"p":0.77},{"series":"HMM (all sessions)","x":68,"p":0.82},{"series":"HMM (all sessions)","x":81.3,"p":0.86},{"series":"HMM (all sessions)","x":94.5,"p":0.89},{"series":"HMM (all sessions)","x":107.7,"p":0.92},{"series":"HMM (all sessions)","x":120.9,"p":0.94},{"series":"HMM (all sessions)","x":134,"p":0.965},{"series":"HMM (all sessions)","x":147,"p":0.98},{"series":"HMM (all sessions)","x":160,"p":0.99},{"series":"HMM (all sessions)","x":174,"p":1},{"series":"HMM (all sessions)","x":200,"p":1},
{"series":"shuffled example","x":0,"p":0},{"series":"shuffled example","x":5,"p":0.04},{"series":"shuffled example","x":10,"p":0.08},{"series":"shuffled example","x":18,"p":0.157},{"series":"shuffled example","x":28.5,"p":0.25},{"series":"shuffled example","x":39,"p":0.376},{"series":"shuffled example","x":47,"p":0.5},{"series":"shuffled example","x":54.9,"p":0.6},{"series":"shuffled example","x":62.8,"p":0.7},{"series":"shuffled example","x":70.7,"p":0.786},{"series":"shuffled example","x":81.3,"p":0.874},{"series":"shuffled example","x":89.2,"p":0.936},{"series":"shuffled example","x":97,"p":0.984},{"series":"shuffled example","x":101,"p":0.997},{"series":"shuffled example","x":107.7,"p":1},{"series":"shuffled example","x":200,"p":1},
{"series":"shuffled (all sessions)","x":0,"p":0},{"series":"shuffled (all sessions)","x":5,"p":0.03},{"series":"shuffled (all sessions)","x":10,"p":0.07},{"series":"shuffled (all sessions)","x":18,"p":0.143},{"series":"shuffled (all sessions)","x":28.5,"p":0.24},{"series":"shuffled (all sessions)","x":41.7,"p":0.36},{"series":"shuffled (all sessions)","x":54,"p":0.5},{"series":"shuffled (all sessions)","x":68,"p":0.61},{"series":"shuffled (all sessions)","x":81.3,"p":0.69},{"series":"shuffled (all sessions)","x":94.5,"p":0.74},{"series":"shuffled (all sessions)","x":107.7,"p":0.77},{"series":"shuffled (all sessions)","x":118,"p":0.81},{"series":"shuffled (all sessions)","x":129,"p":0.88},{"series":"shuffled (all sessions)","x":139,"p":0.94},{"series":"shuffled (all sessions)","x":150,"p":0.977},{"series":"shuffled (all sessions)","x":160,"p":0.99},{"series":"shuffled (all sessions)","x":174,"p":1},{"series":"shuffled (all sessions)","x":200,"p":1}
    ]},
    "mark":{"type":"line","strokeWidth":3.5,"interpolate":"monotone"},
    "encoding":{
     "x":{"field":"x","type":"quantitative","scale":{"domain":[0,200],"nice":false},"axis":{"values":[0,100,200],"labelExpr":"datum.value==0||datum.value==200?datum.label:''","labelFlush":true,"domainWidth":3,"tickWidth":2.5,"tickSize":6,"labelFontSize":18,"labelPadding":7,"title":"decoding error (cm)","titleFontSize":20,"titleX":121,"titleY":25,"titleBaseline":"middle"}},
     "y":{"field":"p","type":"quantitative","scale":{"domain":[0,1],"nice":false},"axis":{"values":[0,0.2,0.4,0.6,0.8,1],"labelExpr":"datum.value==0?'0':(datum.value==1?'1':'')","domainWidth":3,"tickWidth":2.5,"tickSize":7,"labelFontSize":18,"labelPadding":2,"title":"cumulative probability","titleFontSize":20,"titleX":-23,"titleY":128,"titleBaseline":"middle"}},
     "color":{"field":"series","type":"nominal","scale":{"domain":["HMM example session","HMM (all sessions)","shuffled example","shuffled (all sessions)","median decoding error"],"range":["#56b4e9","#fbb030","#2ca25f","#7b3f8b","#000000"]},
      "legend":{"title":null,"orient":"none","legendX":79,"legendY":120,"symbolType":"stroke","symbolStrokeWidth":3.5,"symbolSize":400,"labelFontSize":18,"rowPadding":3,"labelOffset":4,"labelLimit":400}},
     "strokeDash":{"field":"series","type":"nominal","scale":{"domain":["HMM example session","HMM (all sessions)","shuffled example","shuffled (all sessions)","median decoding error"],"range":[[1,0],[1,0],[1,0],[1,0],[1.5,2.5]]},
      "legend":{"title":null,"orient":"none","legendX":79,"legendY":120,"symbolType":"stroke","symbolStrokeWidth":3.5,"symbolSize":400,"labelFontSize":18,"rowPadding":3,"labelOffset":4,"labelLimit":400}}
    }},
   {"data":{"values":[{"series":"HMM example session","m":4.3},{"series":"HMM (all sessions)","m":17.4},{"series":"shuffled example","m":48},{"series":"shuffled (all sessions)","m":55}]},
    "mark":{"type":"rule","strokeDash":[1.5,2.5],"strokeWidth":1.5},
    "encoding":{"x":{"field":"m","type":"quantitative","title":"decoding error (cm)"},"y":{"datum":0},"y2":{"datum":0.47},"color":{"field":"series","type":"nominal"}}},
   {"data":{"values":[{}]},"mark":{"type":"rule","strokeDash":[1.5,2.5],"strokeWidth":1.5,"color":"black"},"encoding":{"x":{"datum":0},"x2":{"datum":55},"y":{"datum":0.503}}},
   {"data":{"values":[{}]},"mark":{"type":"text","text":"5 cm","align":"left","baseline":"middle","fontSize":13,"color":"#56b4e9"},"encoding":{"x":{"datum":4.3},"y":{"datum":-0.022}}},
   {"data":{"values":[{}]},"mark":{"type":"text","text":"47 cm","align":"left","baseline":"middle","fontSize":13,"color":"#2ca25f"},"encoding":{"x":{"datum":33.4},"y":{"datum":-0.022}}},
   {"data":{"values":[{}]},"mark":{"type":"text","text":"17 cm","align":"left","baseline":"middle","fontSize":13,"color":"#fbb030"},"encoding":{"x":{"datum":18.4},"y":{"datum":0.035}}},
   {"data":{"values":[{}]},"mark":{"type":"text","text":"54 cm","align":"left","baseline":"middle","fontSize":13,"color":"#7b3f8b"},"encoding":{"x":{"datum":56.3},"y":{"datum":0.035}}}
  ]}
],"spacing":79,"bounds":"flush","resolve":{"scale":{"color":"independent","x":"independent","y":"independent","strokeDash":"independent"},"legend":{"color":"independent","strokeDash":"independent"}}}
]
}
